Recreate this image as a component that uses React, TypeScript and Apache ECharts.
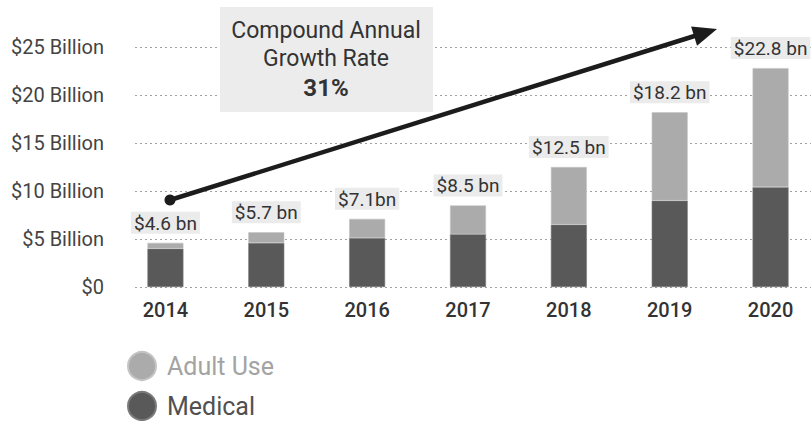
import React, { useEffect, useRef } from "react";
import * as echarts from "echarts";

const years = ["2014", "2015", "2016", "2017", "2018", "2019", "2020"];
const medical = [4.0, 4.6, 5.1, 5.5, 6.5, 9.0, 10.4];
const adultUse = [0.6, 1.1, 2.0, 3.0, 6.0, 9.2, 12.4];
const totalLabels = ["$4.6 bn", "$5.7 bn", "$7.1bn", "$8.5 bn", "$12.5 bn", "$18.2 bn", "$22.8 bn"];
const yTicks = [0, 5, 10, 15, 20, 25];
const cagrLines = ["Compound Annual", "Growth Rate", "31%"];

export default function App() {
  const ref = useRef<HTMLDivElement>(null);
  useEffect(() => {
    if (!ref.current) return;
    const chart = echarts.init(ref.current, null, { renderer: "svg" });
    const font = "Roboto, 'Liberation Sans', sans-serif";
    const sx = 170, sy = 200, tx = 717, ty = 29;
    const dx = tx - sx, dy = ty - sy;
    const len = Math.sqrt(dx * dx + dy * dy);
    const ux = dx / len, uy = dy / len;
    const px = -uy, py = ux;
    const bx = tx - 24 * ux, by = ty - 24 * uy;
    const legendBase = {
      orient: "vertical",
      left: 127,
      padding: 0,
      icon: "circle",
      itemWidth: 28,
      itemHeight: 28,
      textStyle: { fontSize: 25, fontFamily: font, padding: [0, 0, 0, 6] },
    };
    chart.setOption({
      animation: false,
      backgroundColor: "#ffffff",
      textStyle: { fontFamily: font },
      grid: { left: 115, right: -10, top: 47, bottom: 134, outerBoundsMode: "none" },
      legend: [
        { ...legendBase, top: 351, data: [{ name: "Adult Use", textStyle: { color: "#a3a3a3" } }] },
        { ...legendBase, top: 391, data: [{ name: "Medical", textStyle: { color: "#505050" } }] },
      ],
      xAxis: {
        type: "category",
        data: years,
        axisLine: { show: false },
        axisTick: { show: false },
        axisLabel: { fontSize: 20, color: "#333", fontWeight: 500, margin: 13, fontFamily: font },
      },
      yAxis: {
        type: "value",
        min: 0,
        max: 25,
        interval: 5,
        axisLine: { show: false },
        axisTick: { show: false },
        axisLabel: {
          fontSize: 20,
          color: "#444",
          margin: 11,
          fontFamily: font,
          formatter: (v: number) => (yTicks.indexOf(v) === 0 ? "$0" : `$${v} Billion`),
        },
        splitLine: { lineStyle: { color: "#a0a0a0", type: [2, 3], width: 1 } },
      },
      series: [
        {
          name: "Medical",
          type: "bar",
          stack: "t",
          barWidth: 36,
          data: medical,
          itemStyle: { color: "#595959", borderColor: "#7a7a7a", borderWidth: 0.6 },
        },
        {
          name: "Adult Use",
          type: "bar",
          stack: "t",
          barWidth: 36,
          data: adultUse,
          itemStyle: { color: "#ababab", borderColor: "#c4c4c4", borderWidth: 0.6 },
          label: {
            show: true,
            position: "top",
            distance: 9,
            formatter: (p: any) => totalLabels[p.dataIndex],
            backgroundColor: "#ebebeb",
            padding: [2, 3, 1, 3],
            fontSize: 19,
            color: "#333",
            fontFamily: font,
          },
        },
      ],
      graphic: [
        {
          type: "rect",
          shape: { x: 106, y: 40, width: 26, height: 252 },
          style: { fill: "#ffffff" },
          z: 1,
        },
        {
          type: "rect",
          shape: { x: 220, y: 7, width: 213, height: 105 },
          style: { fill: "#ececec" },
          z: 10,
        },
        {
          type: "text",
          x: 326,
          y: 30,
          style: { text: cagrLines[0], fontSize: 23, fill: "#333", align: "center", verticalAlign: "middle", fontFamily: font },
          z: 11,
        },
        {
          type: "text",
          x: 326,
          y: 58,
          style: { text: cagrLines[1], fontSize: 23, fill: "#333", align: "center", verticalAlign: "middle", fontFamily: font },
          z: 11,
        },
        {
          type: "text",
          x: 326,
          y: 88,
          style: { text: cagrLines[2], fontSize: 24, fontWeight: "bold", fill: "#333", align: "center", verticalAlign: "middle", fontFamily: font },
          z: 11,
        },
        {
          type: "line",
          shape: { x1: sx, y1: sy, x2: bx + 3 * ux, y2: by + 3 * uy },
          style: { stroke: "#1c1c1c", lineWidth: 4.5 },
          z: 12,
        },
        {
          type: "polygon",
          shape: { points: [[tx, ty], [bx + 10 * px, by + 10 * py], [bx - 10 * px, by - 10 * py]] },
          style: { fill: "#1c1c1c" },
          z: 12,
        },
        {
          type: "circle",
          shape: { cx: sx, cy: sy, r: 5.5 },
          style: { fill: "#1c1c1c" },
          z: 12,
        },
      ],
    });
    return () => chart.dispose();
  }, []);
  return <div ref={ref} style={{ position: "fixed", left: 0, top: 0, width: 811, height: 421 }} />;
}
